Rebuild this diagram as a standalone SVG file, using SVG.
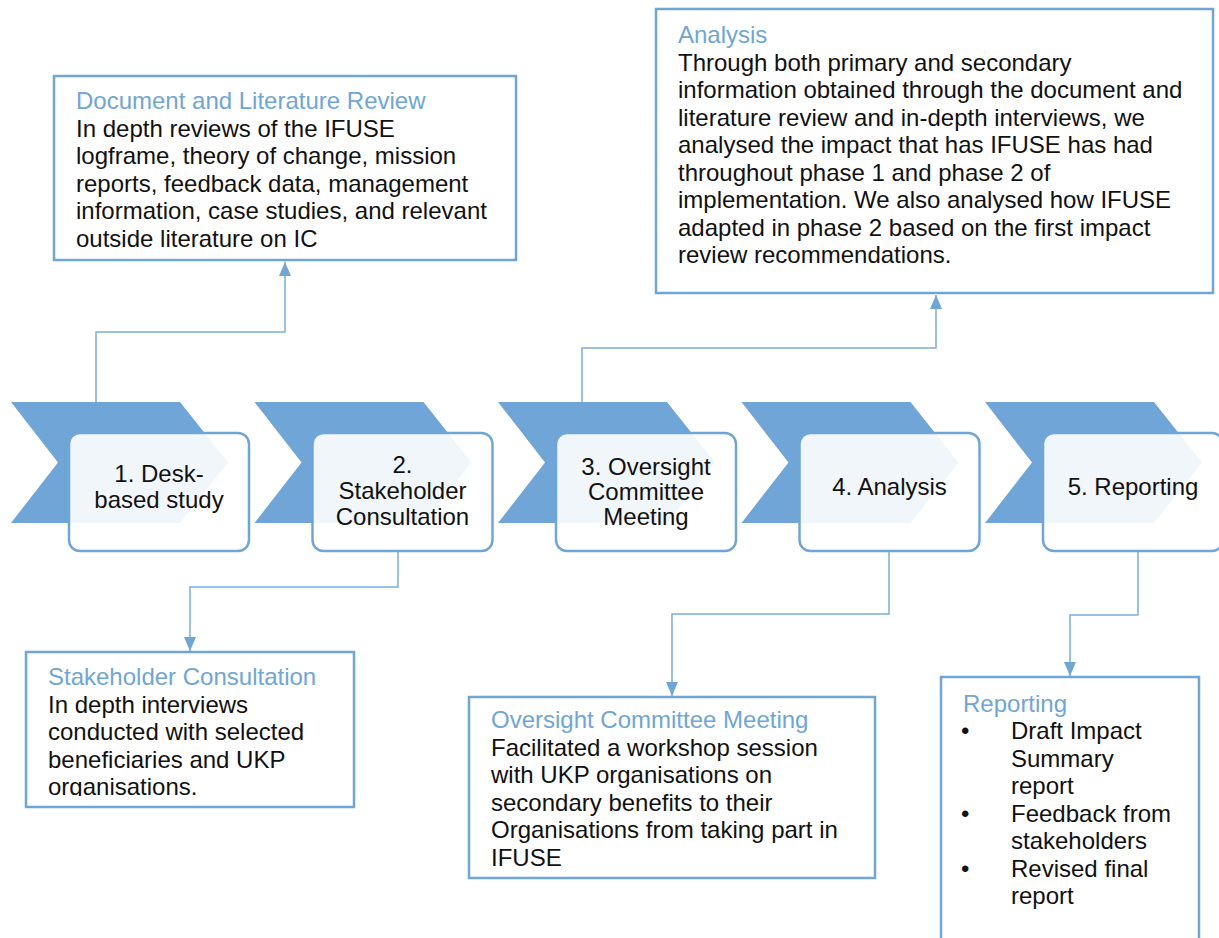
<svg xmlns="http://www.w3.org/2000/svg" width="1219" height="938" viewBox="0 0 1219 938">
<style>
  .chev { fill: #6FA6D7; }
  .step { fill: #FFFFFF; fill-opacity: 0.9; stroke: #6FA6D7; stroke-width: 2.5; }
  .box { fill: #FFFFFF; stroke: #6FA6D7; stroke-width: 2.5; }
  .t { font-family: "Liberation Sans", Arial, sans-serif; font-size: 24px; fill: #111111; }
  .c { text-anchor: middle; }
  .h { fill: #6FA6D7; }
  .conn { fill: none; stroke: #7AAEDC; stroke-width: 1.5; }
</style>
<defs>
  <marker id="arr" viewBox="0 0 14 12" refX="14" refY="6" markerWidth="14" markerHeight="12" markerUnits="userSpaceOnUse" orient="auto">
    <path d="M0,0 L14,6 L0,12 Z" fill="#6FA6D7"/>
  </marker>
  <clipPath id="clipSH"><rect x="26" y="652" width="328" height="144"/></clipPath>
</defs>

<g id="connectors">
  <path class="conn" d="M96,402 V332 H285 V262" marker-end="url(#arr)"/>
  <path class="conn" d="M582,402 V348 H936 V295" marker-end="url(#arr)"/>
  <path class="conn" d="M398,552 V587 H190 V651" marker-end="url(#arr)"/>
  <path class="conn" d="M889,552 V614 H672 V696" marker-end="url(#arr)"/>
  <path class="conn" d="M1138,552 V615 H1070 V676" marker-end="url(#arr)"/>
</g>

<g id="step1">
  <polygon class="chev" points="11,402 180,402 228,462.5 180,523 11,523 58,462.5"/>
  <rect class="step" x="69" y="433" width="180" height="118" rx="11"/>
  <text class="t c" x="159" y="482">1. Desk-</text>
  <text class="t c" x="159" y="508">based study</text>
</g>
<g id="step2">
  <polygon class="chev" points="254.5,402 423.5,402 471.5,462.5 423.5,523 254.5,523 301.5,462.5"/>
  <rect class="step" x="312.5" y="433" width="180" height="118" rx="11"/>
  <text class="t c" x="402.5" y="473">2.</text>
  <text class="t c" x="402.5" y="499">Stakeholder</text>
  <text class="t c" x="402.5" y="525">Consultation</text>
</g>
<g id="step3">
  <polygon class="chev" points="498,402 667,402 715,462.5 667,523 498,523 545,462.5"/>
  <rect class="step" x="556" y="433" width="180" height="118" rx="11"/>
  <text class="t c" x="646" y="475">3. Oversight</text>
  <text class="t c" x="646" y="500">Committee</text>
  <text class="t c" x="646" y="525">Meeting</text>
</g>
<g id="step4">
  <polygon class="chev" points="741.5,402 910.5,402 958.5,462.5 910.5,523 741.5,523 788.5,462.5"/>
  <rect class="step" x="799.5" y="433" width="180" height="118" rx="11"/>
  <text class="t c" x="889.5" y="495">4. Analysis</text>
</g>
<g id="step5">
  <polygon class="chev" points="985,402 1154,402 1202,462.5 1154,523 985,523 1032,462.5"/>
  <rect class="step" x="1043" y="433" width="180" height="118" rx="11"/>
  <text class="t c" x="1133" y="495">5. Reporting</text>
</g>

<g id="box-doc">
  <rect class="box" x="54" y="76" width="462" height="184"/>
  <text class="t h" x="76" y="109">Document and Literature Review</text>
  <text class="t" x="76" y="136.5">In depth reviews of the IFUSE</text>
  <text class="t" x="76" y="164">logframe, theory of change, mission</text>
  <text class="t" x="76" y="191.5">reports, feedback data, management</text>
  <text class="t" x="76" y="219">information, case studies, and relevant</text>
  <text class="t" x="76" y="246.5">outside literature on IC</text>
</g>

<g id="box-analysis">
  <rect class="box" x="656" y="9" width="557" height="284"/>
  <text class="t h" x="678" y="43">Analysis</text>
  <text class="t" x="678" y="70.5">Through both primary and secondary</text>
  <text class="t" x="678" y="98">information obtained through the document and</text>
  <text class="t" x="678" y="125.5">literature review and in-depth interviews, we</text>
  <text class="t" x="678" y="153">analysed the impact that has IFUSE has had</text>
  <text class="t" x="678" y="180.5">throughout phase 1 and phase 2 of</text>
  <text class="t" x="678" y="208">implementation. We also analysed how IFUSE</text>
  <text class="t" x="678" y="235.5">adapted in phase 2 based on the first impact</text>
  <text class="t" x="678" y="263">review recommendations.</text>
</g>

<g id="box-stakeholder">
  <rect class="box" x="26" y="652" width="328" height="155"/>
  <g clip-path="url(#clipSH)">
    <text class="t h" x="48" y="685">Stakeholder Consultation</text>
    <text class="t" x="48" y="712.5">In depth interviews</text>
    <text class="t" x="48" y="740">conducted with selected</text>
    <text class="t" x="48" y="767.5">beneficiaries and UKP</text>
    <text class="t" x="48" y="795">organisations.</text>
  </g>
</g>

<g id="box-oversight">
  <rect class="box" x="469" y="697" width="406" height="181"/>
  <text class="t h" x="491" y="728">Oversight Committee Meeting</text>
  <text class="t" x="491" y="755.5">Facilitated a workshop session</text>
  <text class="t" x="491" y="783">with UKP organisations on</text>
  <text class="t" x="491" y="810.5">secondary benefits to their</text>
  <text class="t" x="491" y="838">Organisations from taking part in</text>
  <text class="t" x="491" y="865.5">IFUSE</text>
</g>

<g id="box-reporting">
  <rect class="box" x="941" y="677" width="258" height="280"/>
  <text class="t h" x="963" y="712">Reporting</text>
  <text class="t" x="961" y="739">•</text>
  <text class="t" x="1011" y="739">Draft Impact</text>
  <text class="t" x="1011" y="766.5">Summary</text>
  <text class="t" x="1011" y="794">report</text>
  <text class="t" x="961" y="821.5">•</text>
  <text class="t" x="1011" y="821.5">Feedback from</text>
  <text class="t" x="1011" y="849">stakeholders</text>
  <text class="t" x="961" y="876.5">•</text>
  <text class="t" x="1011" y="876.5">Revised final</text>
  <text class="t" x="1011" y="904">report</text>
</g>
</svg>
